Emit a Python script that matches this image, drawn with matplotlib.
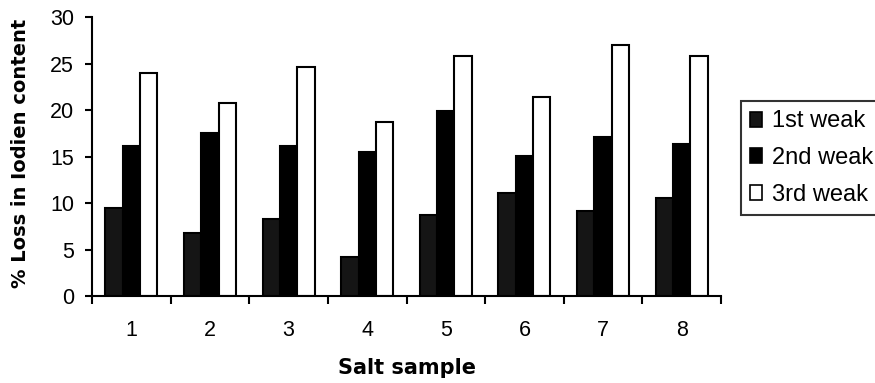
import matplotlib
matplotlib.use("Agg")
import matplotlib.pyplot as plt
import numpy as np

samples = ["1", "2", "3", "4", "5", "6", "7", "8"]
week1 = [9.5, 6.8, 8.3, 4.2, 8.7, 11.1, 9.1, 10.6]
week2 = [16.2, 17.5, 16.2, 15.5, 19.9, 15.1, 17.1, 16.4]
week3 = [24.0, 20.8, 24.7, 18.7, 25.8, 21.4, 27.0, 25.8]
series_names = ["1st weak", "2nd weak", "3rd weak"]
yticks = [0, 5, 10, 15, 20, 25, 30]

plt.rcParams['font.family'] = ['Liberation Sans', 'DejaVu Sans']

fig = plt.figure(figsize=(8.75, 3.83), dpi=100)
ax = fig.add_axes([92/875, 87/383, (721-92)/875, 278.7/383])

x = np.arange(1, len(samples) + 1)
w = 0.22
lw = 1.5
ax.bar(x - w, week1, w, color='#151515', edgecolor='black', linewidth=lw, label=series_names[0])
ax.bar(x, week2, w, color='black', edgecolor='black', linewidth=lw, label=series_names[1])
ax.bar(x + w, week3, w, color='white', edgecolor='black', linewidth=lw, label=series_names[2])

ax.set_xlim(0.5, len(samples) + 0.5)
ax.set_ylim(0, 30)
ax.set_yticks(yticks)
ax.set_xticks(np.arange(0.5, len(samples) + 1.0, 1.0))
ax.set_xticklabels([])
ax.set_xticks(x, minor=True)
ax.set_xticklabels(samples, minor=True)
ax.tick_params(axis='x', which='major', direction='out', length=5.5, width=1.5)
ax.tick_params(axis='x', which='minor', length=0, pad=17, labelsize=15.5)
ax.tick_params(axis='y', direction='out', length=5, width=1.5, labelsize=15.5, pad=8)

for s in ['top', 'right']:
    ax.spines[s].set_visible(False)
for s in ['left', 'bottom']:
    ax.spines[s].set_linewidth(1.5)

ax.set_xlabel("Salt sample", fontsize=15, fontweight='bold', family='DejaVu Sans')
ax.xaxis.label.set_verticalalignment('center')
ax.xaxis.set_label_coords(0.5, -(368 - 296) / 278.7)
ax.set_ylabel("% Loss in Iodien content", fontsize=14, fontweight='bold', family='DejaVu Sans')
ax.yaxis.label.set_verticalalignment('center')
ax.yaxis.set_label_coords(-(92 - 21) / 629, 0.513)

leg = fig.legend(loc='upper left', bbox_to_anchor=(741/875, 1 - 101/383),
                 fontsize=17, frameon=True, fancybox=False, edgecolor='black',
                 handlelength=0.5, handleheight=0.6, handletextpad=0.4,
                 labelspacing=0.62, borderpad=0.4, borderaxespad=0)
leg.get_frame().set_linewidth(1.5)
for h in leg.legend_handles:
    h.set_linewidth(1.2)

fig.savefig("out.png", dpi=100)
